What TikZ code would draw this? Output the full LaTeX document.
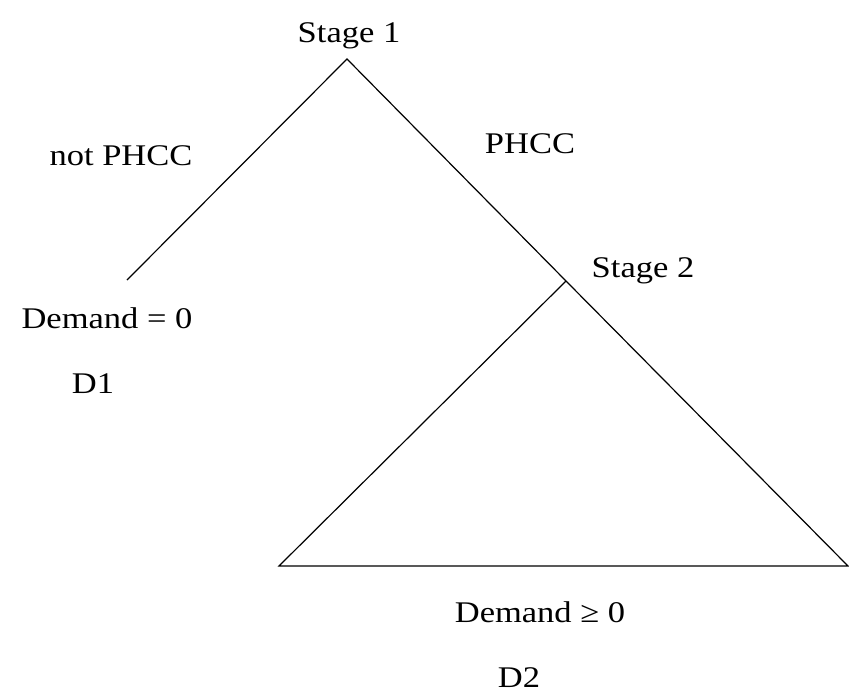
\documentclass[tikz,border=0pt]{standalone}
\usepackage{fontspec}
\setmainfont{Liberation Serif}
\begin{document}
\begin{tikzpicture}[x=1pt,y=-1pt,
  edge/.style={line width=1.2pt,black},
  lbl/.style={anchor=base,inner sep=0pt,font=\fontsize{30}{34}\selectfont}]
\useasboundingbox (0,0) rectangle (849,696);
\coordinate (s1) at (347,59);
\coordinate (l) at (127,280);
\coordinate (s2) at (566,281);
\coordinate (bl) at (279,566);
\coordinate (br) at (848,566);
\draw[edge] (l) -- (s1) -- (s2) -- (br) -- (bl) -- (s2);
\node[lbl] (t1) at (349,42) {\scalebox{1.15}[1]{Stage 1}};
\node[lbl] (t2) at (121,165) {\scalebox{1.15}[1]{not PHCC}};
\node[lbl] (t3) at (530,153) {\scalebox{1.15}[1]{PHCC}};
\node[lbl] (t4) at (643,277) {\scalebox{1.15}[1]{Stage 2}};
\node[lbl] (t5) at (107,328) {\scalebox{1.15}[1]{Demand = 0}};
\node[lbl] (t6) at (93,393) {\scalebox{1.15}[1]{D1}};
\node[lbl] (t7) at (540,622) {\scalebox{1.15}[1]{Demand ≥ 0}};
\node[lbl] (t8) at (519,687) {\scalebox{1.15}[1]{D2}};
\end{tikzpicture}
\end{document}
